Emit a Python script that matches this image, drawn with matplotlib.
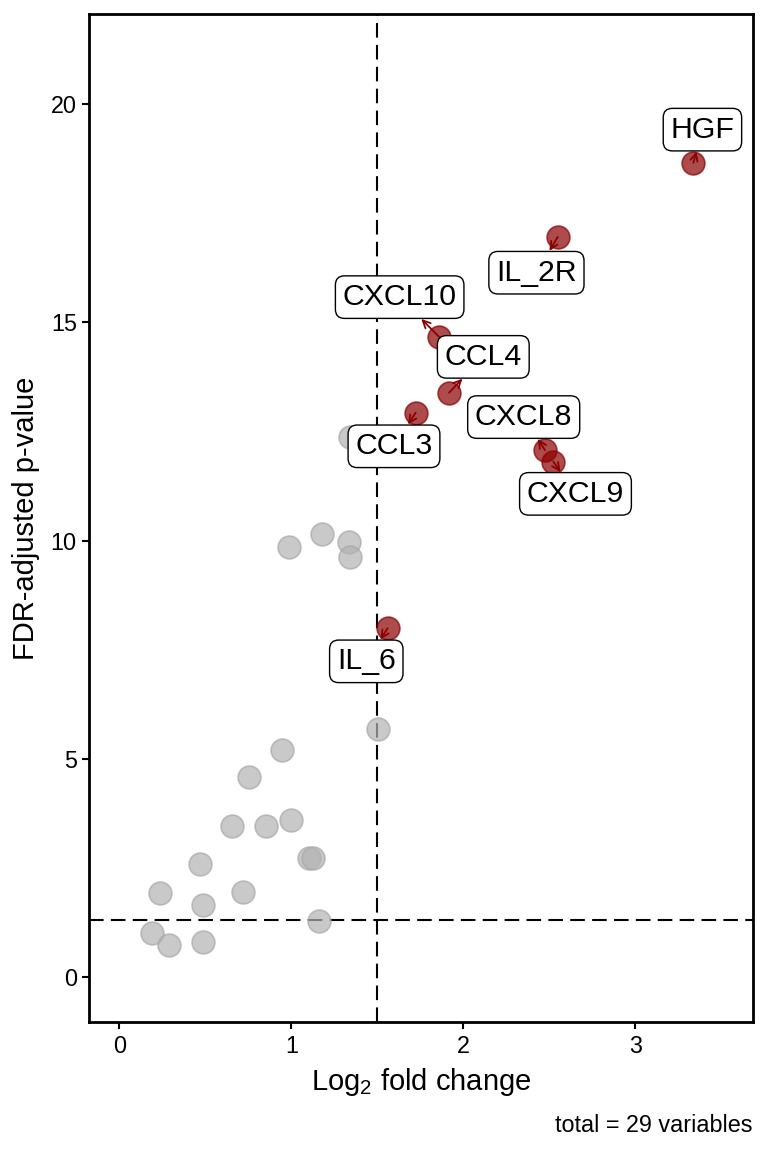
import matplotlib
matplotlib.use("Agg")
import matplotlib.pyplot as plt

plt.rcParams['font.family'] = ['Liberation Sans', 'DejaVu Sans']

# grey (not significant) variables
grey_fc = [1.506, 0.948, 0.756, 0.657, 0.855, 0.997, 1.103, 1.124, 0.469, 0.237,
           0.717, 0.488, 1.163, 0.192, 0.287, 0.485, 0.985, 1.178, 1.334, 1.341, 1.341]
grey_p = [5.67, 5.20, 4.57, 3.45, 3.45, 3.59, 2.71, 2.72, 2.59, 1.92,
          1.95, 1.64, 1.28, 1.01, 0.73, 0.80, 9.86, 10.16, 9.96, 9.63, 12.37]

# highlighted variables
sig_names = ['HGF', 'IL_2R', 'CXCL10', 'CCL4', 'CCL3', 'CXCL8', 'CXCL9', 'IL_6']
sig_fc = [3.337, 2.549, 1.859, 1.917, 1.723, 2.475, 2.523, 1.560]
sig_p = [18.66, 16.96, 14.67, 13.39, 12.93, 12.07, 11.81, 7.99]
# label positions (repelled)
lab_x = [3.390, 2.425, 1.630, 2.116, 1.597, 2.351, 2.652, 1.436]
lab_y = [19.42, 16.14, 15.58, 14.21, 12.16, 12.83, 11.07, 7.23]

fc_cut = 1.5
p_cut = 1.30

fig = plt.figure(figsize=(7.68, 11.52), dpi=100)
ax = fig.add_axes([0.1163, 0.1128, 0.9805 - 0.1163, 0.9878 - 0.1128])

ax.axvline(fc_cut, color='black', lw=1.5, ls=(0, (7, 3.5)), zorder=1)
ax.axhline(p_cut, color='black', lw=1.5, ls=(0, (7, 3.5)), zorder=1)

ax.scatter(grey_fc, grey_p, s=270, color='#B3B3B3', alpha=0.7,
           edgecolors='#A8A8A8', linewidths=1.2, zorder=2)
ax.scatter(sig_fc, sig_p, s=270, color='#8B0000', alpha=0.7,
           edgecolors='#8B0000', linewidths=1.2, zorder=3)

for name, x, y, tx, ty in zip(sig_names, sig_fc, sig_p, lab_x, lab_y):
    ax.annotate(name, xy=(x, y), xytext=(tx, ty), ha='center', va='center',
                fontsize=21.8, zorder=5,
                bbox=dict(boxstyle='round,pad=0.24,rounding_size=0.3',
                          fc='white', ec='black', lw=1.0),
                arrowprops=dict(arrowstyle='<-,head_length=0.25,head_width=0.12',
                                color='#8B0000', lw=1.3, shrinkA=0, shrinkB=0))

ax.set_xlim(-0.174, 3.684)
ax.set_ylim(-1.04, 22.07)
ax.set_xticks([0, 1, 2, 3])
ax.set_yticks([0, 5, 10, 15, 20])

for s in ax.spines.values():
    s.set_linewidth(2.0)
ax.tick_params(length=5, width=1.5, labelsize=16.8, pad=4, colors='black')

ax.set_xlabel(r'Log$_\mathregular{2}$ fold change', fontsize=21, labelpad=6)
ax.set_ylabel('FDR-adjusted p-value', fontsize=21, labelpad=8)

fig.text(0.98, 1 - 1125 / 1152, 'total = 29 variables', ha='right', va='center',
         fontsize=16.8)

fig.savefig('out.png', dpi=100)
